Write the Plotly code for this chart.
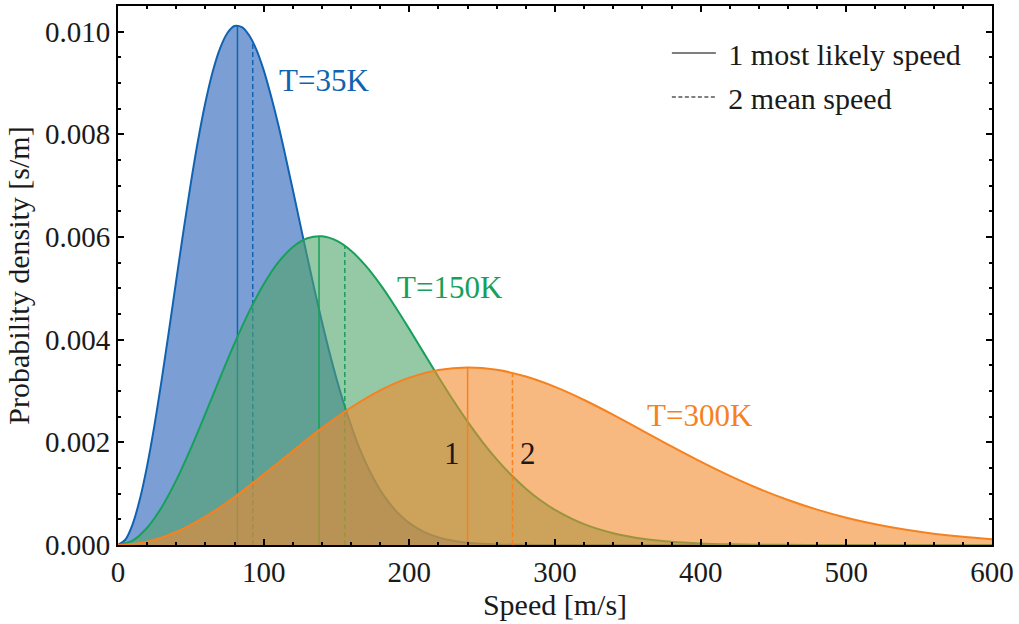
import plotly.graph_objects as go

# ---------------- data ----------------
speed_35 = [0, 5, 10, 15, 20, 25, 30, 35, 40, 45, 50, 55, 60, 65, 70, 75, 80, 85, 90,
            95, 100, 105, 110, 115, 120, 125, 130, 135, 140, 145, 150, 155, 160, 165,
            170, 175, 180, 185, 190, 195, 200, 210, 220, 230, 240, 250, 260, 280, 300,
            600]
dens_35 = [0, 0.000102, 0.000403, 0.00089, 0.001542, 0.00233, 0.003221, 0.004177,
           0.00516, 0.00613, 0.00705, 0.00789, 0.00862, 0.00922, 0.00967, 0.00997,
           0.01011, 0.01009, 0.00993, 0.00965, 0.00925, 0.00875, 0.00819, 0.00757,
           0.00692, 0.00626, 0.0056, 0.00496, 0.00435, 0.00377, 0.00324, 0.00276,
           0.00233, 0.00194, 0.00161, 0.00132, 0.00107, 0.000863, 0.000688, 0.000544,
           0.000427, 0.000256, 0.000148, 0.0000829, 0.0000448, 0.0000234, 0.0000119,
           0.000003, 0, 0]

speed_150 = [0, 10, 20, 30, 40, 50, 60, 70, 80, 90, 100, 110, 120, 130, 140, 150, 160,
             170, 180, 190, 200, 210, 220, 230, 240, 250, 260, 270, 280, 290, 300, 320,
             340, 360, 380, 400, 420, 440, 460, 480, 500, 520, 540, 560, 580, 600]
dens_150 = [0, 0.0000854, 0.000336, 0.000737, 0.001263, 0.001883, 0.002559, 0.003253,
            0.003927, 0.004546, 0.005079, 0.005504, 0.005805, 0.005975, 0.006013,
            0.005928, 0.005732, 0.005441, 0.005076, 0.004657, 0.004205, 0.003738,
            0.003273, 0.002824, 0.002403, 0.002015, 0.001668, 0.001362, 0.001097,
            0.000872, 0.000685, 0.000406, 0.000229, 0.000123, 0.0000632, 0.0000308,
            0.0000144, 0.0000064, 0.0000027, 0.0000011, 0, 0, 0, 0, 0, 0]

speed_300 = [0, 20, 40, 60, 80, 100, 120, 140, 160, 180, 200, 220, 240, 260, 280,
             300, 320, 340, 360, 380, 400, 420, 440, 460, 480, 500, 520, 540, 560,
             580, 600]
dens_300 = [0, 0.0000648, 0.000254, 0.000552, 0.000935, 0.001372, 0.001831, 0.002277,
            0.002679, 0.003013, 0.003261, 0.00341, 0.003459, 0.003413, 0.003281,
            0.003079, 0.002825, 0.002536, 0.00223, 0.001921, 0.001624, 0.001347,
            0.001096, 0.000877, 0.000689, 0.000532, 0.000404, 0.000301, 0.000221,
            0.00016, 0.000113]

temp_labels = ["T=35K", "T=150K", "T=300K"]
v_likely = [82, 138, 240]          # most likely speed
f_likely = [0.01012, 0.006016, 0.003459]
v_mean = [92.5, 155.7, 270.8]      # mean speed
f_mean = [0.009805, 0.005829, 0.003351]

label_x = [109, 190, 362]
label_y = [0.00904, 0.00501, 0.00252]

marker_labels = ["1", "2"]
legend_names = ["\u00a01 most likely speed", "\u00a02 mean speed"]

# ---------------- styles ----------------
line_cols = ["#1163b1", "#17a05a", "#f5821f"]
fill_cols = ["rgba(35,95,183,0.6)", "rgba(78,163,105,0.6)", "rgba(243,138,43,0.6)"]
FONT = "Liberation Serif, Times New Roman, serif"
TXT = "#1a1a1a"

series = [(speed_35, dens_35), (speed_150, dens_150), (speed_300, dens_300)]

fig = go.Figure()
for i, (xs, ys) in enumerate(series):
    fig.add_trace(go.Scatter(
        x=xs, y=ys, mode="lines", fill="tozeroy", fillcolor=fill_cols[i],
        line=dict(color=line_cols[i], width=2, shape="spline", smoothing=1.0),
        name=temp_labels[i], showlegend=False, hoverinfo="skip"))
    fig.add_trace(go.Scatter(
        x=[v_likely[i], v_likely[i]], y=[0, f_likely[i]], mode="lines",
        line=dict(color=line_cols[i], width=1.5), showlegend=False, hoverinfo="skip"))
    fig.add_trace(go.Scatter(
        x=[v_mean[i], v_mean[i]], y=[0, f_mean[i]], mode="lines",
        line=dict(color=line_cols[i], width=1.5, dash="5px,3px"),
        showlegend=False, hoverinfo="skip"))
    fig.add_annotation(x=label_x[i], y=label_y[i], text=temp_labels[i],
                       showarrow=False, xanchor="left", yanchor="middle",
                       font=dict(family=FONT, size=31, color=line_cols[i]))

# "1" and "2" labels near the T=300K markers
fig.add_annotation(x=v_likely[2] - 4, y=0.00179, text=marker_labels[0], showarrow=False,
                   xanchor="right", yanchor="middle",
                   font=dict(family=FONT, size=31, color=TXT))
fig.add_annotation(x=v_mean[2] + 4, y=0.00179, text=marker_labels[1], showarrow=False,
                   xanchor="left", yanchor="middle",
                   font=dict(family=FONT, size=31, color=TXT))

# legend entries
fig.add_trace(go.Scatter(x=[None], y=[None], mode="lines", name=legend_names[0],
                         line=dict(color="black", width=1.2), legendgroup="a"))
fig.add_trace(go.Scatter(x=[None], y=[None], mode="lines", name=legend_names[1],
                         line=dict(color="black", width=1.2, dash="4px,2.5px"),
                         legendgroup="b"))

axis_common = dict(
    showline=True, linecolor="black", linewidth=2, mirror="allticks",
    ticks="inside", ticklen=6, tickwidth=1.5, tickcolor="black",
    showgrid=False, zeroline=False,
    tickfont=dict(family=FONT, size=29, color=TXT),
)

fig.update_xaxes(range=[0, 600], dtick=100, tick0=0,
                 minor=dict(dtick=20, ticks="inside", ticklen=3, tickwidth=1.5,
                            tickcolor="black", showgrid=False),
                 title=dict(text="Speed [m/s]", font=dict(family=FONT, size=30, color=TXT),
                            standoff=0),
                 **axis_common)
fig.update_yaxes(range=[0, 0.0105], dtick=0.002, tick0=0, tickformat=".3f",
                 minor=dict(dtick=0.0005, ticks="inside", ticklen=3, tickwidth=1.5,
                            tickcolor="black", showgrid=False),
                 title=dict(text="Probability density [s/m]",
                            font=dict(family=FONT, size=30, color=TXT),
                            standoff=6),
                 **axis_common)

fig.update_layout(
    width=1019, height=624,
    margin=dict(l=118, r=27, t=4, b=79),
    plot_bgcolor="white", paper_bgcolor="white",
    font=dict(family=FONT, color=TXT),
    showlegend=True,
    legend=dict(x=0.628, y=0.961, xanchor="left", yanchor="top",
                bgcolor="rgba(0,0,0,0)", borderwidth=0,
                font=dict(family=FONT, size=30, color=TXT),
                itemwidth=44, tracegroupgap=2),
)

fig.write_html("out.html")
